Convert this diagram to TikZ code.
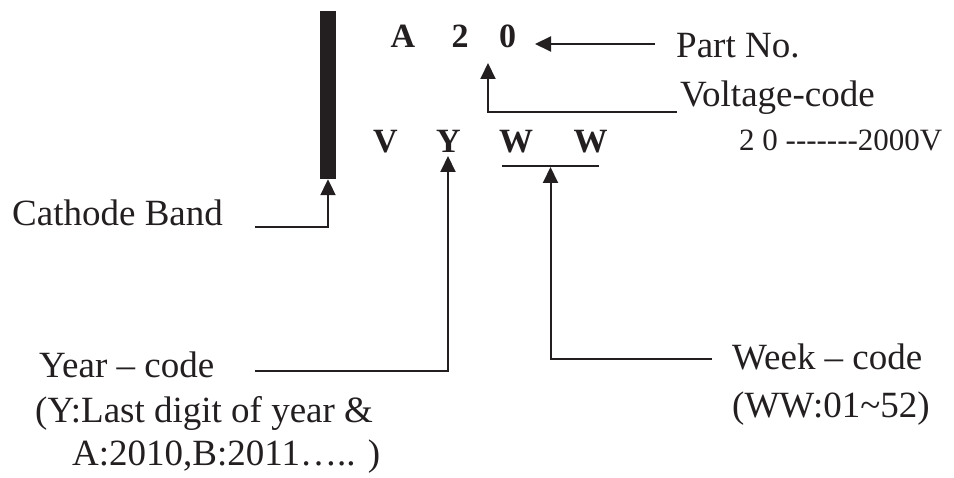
\documentclass[tikz,border=0pt]{standalone}
\usepackage{fontspec}
\setmainfont{Liberation Serif}
\usetikzlibrary{arrows.meta,calc}
\definecolor{ink}{HTML}{231F20}
\tikzset{
  lbl/.style={anchor=base west, inner sep=0pt, text=ink, font=\fontsize{37}{42}\selectfont},
  small/.style={anchor=base west, inner sep=0pt, text=ink, font=\fontsize{31}{36}\selectfont},
  code/.style={anchor=base, inner sep=0pt, text=ink, font=\fontsize{34}{40}\selectfont\bfseries},
  wire/.style={draw=ink, line width=2pt},
  arr/.style={wire, -{Triangle[length=16pt,width=15pt]}},
}
\begin{document}
\begin{tikzpicture}[x=1pt,y=-1pt]
\useasboundingbox (0,0) rectangle (954,478);
% cathode band
\node[fill=ink, minimum width=16pt, minimum height=168pt, inner sep=0pt] (band) at (328,95) {};
% marking codes
\node[code] (cA) at (403,48) {A};
\node[code] (c2) at (460,48) {2};
\node[code] (c0) at (507.5,48) {0};
\node[code] (cV) at (385.5,153) {V};
\node[code] (cY) at (448.5,153) {Y};
\node[code] (cW1) at (516,153) {W};
\node[code] (cW2) at (590.5,153) {W};
% labels
\node[lbl] (part) at (676,58) {Part No.};
\node[lbl] (volt) at (680,107) {Voltage-code};
\node[small] (vex) at (739,151) {2 0 -{}-{}-{}-{}-{}-{}-2000V};
\node[lbl] (cath) at (12,226) {Cathode Band};
\node[lbl] (year) at (39,378) {Year -- code};
\node[lbl] (year2) at (35,423) {(Y:Last digit of year \&};
\node[lbl] (year3) at (72,466) {A:2010,B:2011….. )};
\node[lbl] (week) at (732,370) {Week -- code};
\node[lbl] (week2) at (732,418) {(WW:01\textasciitilde52)};
% connector ends
\coordinate (pnS) at (655,44);
\coordinate (pnT) at (535,44);
\coordinate (vS) at (677,112);
\coordinate (vT) at (488,63);
\coordinate (cS) at (255,227);
\coordinate (yS) at (255,371);
\coordinate (yT) at (448,156);
\coordinate (ul1) at (502,166);
\coordinate (ul2) at (599,166);
\coordinate (ulm) at ($(ul1)!0.5!(ul2)$);
\coordinate (wS) at (712,359);
% connectors
\draw[arr] (pnS) -- (pnT);
\draw[arr] (vS) -| (vT);
\draw[arr] (cS) -| (band.south);
\draw[arr] (yS) -| (yT);
\draw[wire] (ul1) -- (ul2);
\draw[arr] (wS) -| ([yshift=-1pt]ulm);
\end{tikzpicture}
\end{document}
